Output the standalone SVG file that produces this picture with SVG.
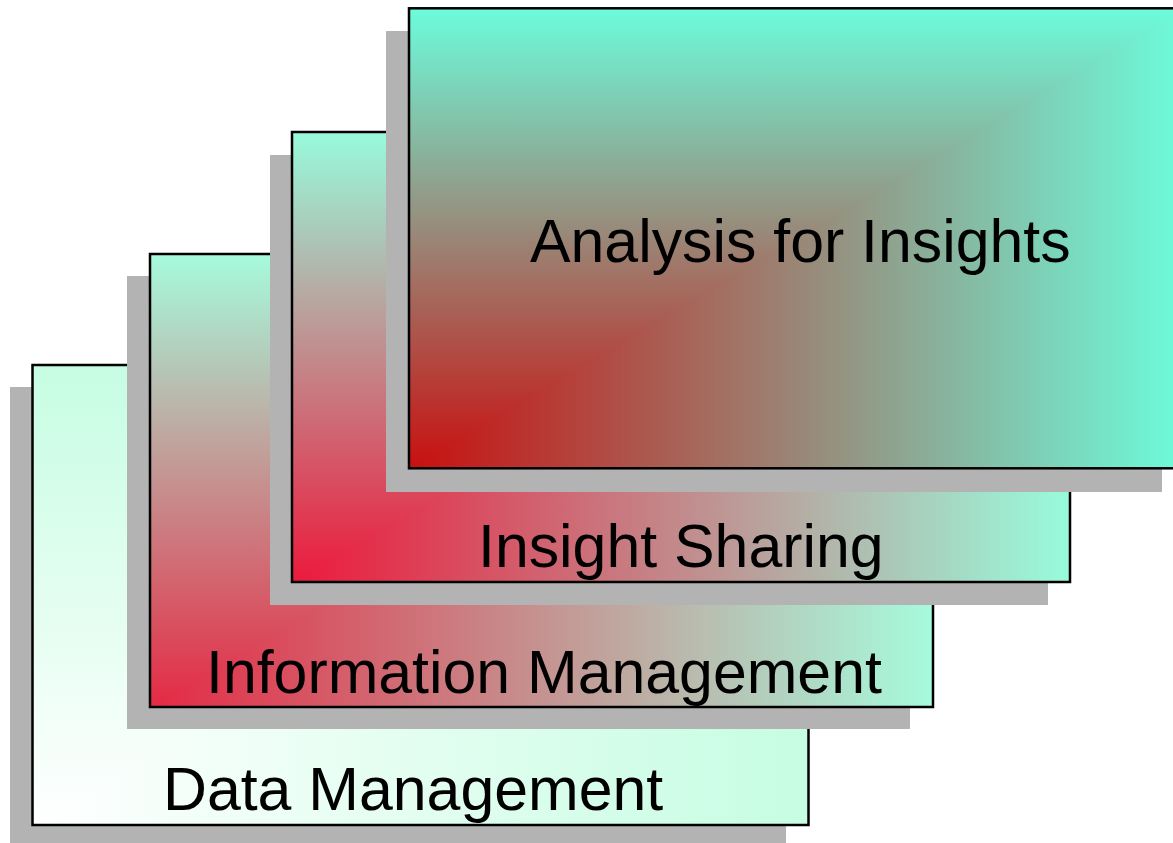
<svg xmlns="http://www.w3.org/2000/svg" width="1173" height="843" viewBox="0 0 1173 843">
  <style>
    .shadow { fill: #b3b3b3; }
    .frame { fill: none; stroke: #000000; stroke-width: 2.5; }
    .label { font-family: "Liberation Sans", Arial, sans-serif; font-size: 60.8px; fill: #000000; }
  </style>
  <defs>
    <linearGradient id="dmH" x1="0" y1="0" x2="1" y2="0"><stop offset="0" stop-color="#ffffff"/><stop offset="1" stop-color="#c6fde2"/></linearGradient>
    <linearGradient id="dmV" x1="0" y1="1" x2="0" y2="0"><stop offset="0" stop-color="#ffffff"/><stop offset="1" stop-color="#c6fde2"/></linearGradient>
    <linearGradient id="imH" x1="0" y1="0" x2="1" y2="0"><stop offset="0" stop-color="#e42a44"/><stop offset="1" stop-color="#a6fbdd"/></linearGradient>
    <linearGradient id="imV" x1="0" y1="1" x2="0" y2="0"><stop offset="0" stop-color="#e42a44"/><stop offset="1" stop-color="#a6fbdd"/></linearGradient>
    <linearGradient id="isH" x1="0" y1="0" x2="1" y2="0"><stop offset="0" stop-color="#ec1a3c"/><stop offset="1" stop-color="#98fbdc"/></linearGradient>
    <linearGradient id="isV" x1="0" y1="1" x2="0" y2="0"><stop offset="0" stop-color="#ec1a3c"/><stop offset="1" stop-color="#98fbdc"/></linearGradient>
    <linearGradient id="aiH" x1="0" y1="0" x2="1" y2="0"><stop offset="0" stop-color="#c81010"/><stop offset="1" stop-color="#6cfcdc"/></linearGradient>
    <linearGradient id="aiV" x1="0" y1="1" x2="0" y2="0"><stop offset="0" stop-color="#c81010"/><stop offset="1" stop-color="#6cfcdc"/></linearGradient>
  </defs>

  <g id="data-management">
    <rect class="shadow" x="10" y="387" width="776" height="460"/>
    <rect x="32.5" y="365" width="776" height="460" fill="url(#dmH)"/>
    <polygon points="32.5,825 32.5,365 808.5,365" fill="url(#dmV)"/>
    <rect class="frame" x="32.5" y="365" width="776" height="460"/>
    <text class="label" x="163" y="810">Data Management</text>
  </g>

  <g id="information-management">
    <rect class="shadow" x="127" y="276" width="783" height="453"/>
    <rect x="150" y="254" width="783" height="453" fill="url(#imH)"/>
    <polygon points="150,707 150,254 933,254" fill="url(#imV)"/>
    <rect class="frame" x="150" y="254" width="783" height="453"/>
    <text class="label" x="206" y="693">Information Management</text>
  </g>

  <g id="insight-sharing">
    <rect class="shadow" x="270" y="155" width="778" height="450"/>
    <rect x="292" y="132" width="778" height="450" fill="url(#isH)"/>
    <polygon points="292,582 292,132 1070,132" fill="url(#isV)"/>
    <rect class="frame" x="292" y="132" width="778" height="450"/>
    <text class="label" x="478" y="567">Insight Sharing</text>
  </g>

  <g id="analysis-for-insights">
    <rect class="shadow" x="386" y="31" width="776" height="461"/>
    <rect x="409" y="8.3" width="776" height="460" fill="url(#aiH)"/>
    <polygon points="409,468.3 409,8.3 1185,8.3" fill="url(#aiV)"/>
    <rect class="frame" x="409" y="8.3" width="776" height="460"/>
    <text class="label" x="530" y="262">Analysis for Insights</text>
  </g>

  <g id="connectors"/>
</svg>
